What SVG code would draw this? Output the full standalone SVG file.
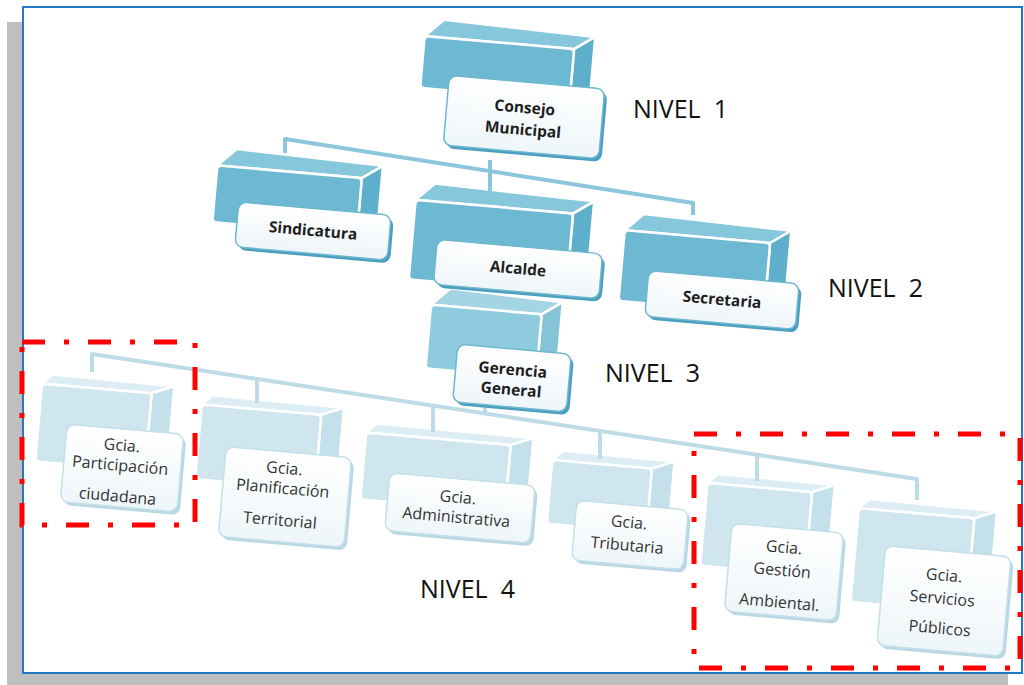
<svg xmlns="http://www.w3.org/2000/svg" width="1024" height="685" viewBox="0 0 1024 685">
<defs>
<linearGradient id="cardg" x1="0" y1="0" x2="0" y2="1">
<stop offset="0" stop-color="#ffffff"/>
<stop offset="1" stop-color="#eef6f9"/>
</linearGradient>
<style>
.f1{fill:#6db8d2;stroke:#fff;stroke-width:2.5;stroke-linejoin:round}
.t1{fill:#86c7dc;stroke:#fff;stroke-width:2.5;stroke-linejoin:round}
.s1{fill:#5eafcb;stroke:#fff;stroke-width:2.5;stroke-linejoin:round}
.f3{fill:#8ecbde;stroke:#fff;stroke-width:2.5;stroke-linejoin:round}
.t3{fill:#a3d5e4;stroke:#fff;stroke-width:2.5;stroke-linejoin:round}
.s3{fill:#84c3d8;stroke:#fff;stroke-width:2.5;stroke-linejoin:round}
.f4{fill:#cfe6ee;stroke:#fff;stroke-width:2.5;stroke-linejoin:round}
.t4{fill:#dcedf3;stroke:#fff;stroke-width:2.5;stroke-linejoin:round}
.s4{fill:#c4e0ea;stroke:#fff;stroke-width:2.5;stroke-linejoin:round}
.sh1{fill:#4a9fc0}
.sh4{fill:#b9d8e4}
.c1{fill:url(#cardg);stroke:#6fb6cf;stroke-width:1.5}
.c4{fill:url(#cardg);stroke:#c3dfe9;stroke-width:1.5}
.lb{font-family:"Open Sans","DejaVu Sans",sans-serif;font-weight:700;font-size:15.5px;fill:#1e1e1e;text-anchor:middle}
.lr{font-family:"Open Sans","DejaVu Sans",sans-serif;font-weight:400;font-size:16px;fill:#333;text-anchor:middle}
.nv{font-family:"Open Sans","DejaVu Sans",sans-serif;font-size:25px;fill:#111;white-space:pre}
.cn1{fill:none;stroke:#8cc6da;stroke-width:4;stroke-linejoin:round}
.cn4{fill:none;stroke:#bddce7;stroke-width:4;stroke-linejoin:round}
.red{fill:none;stroke:#ff0000;stroke-width:5;stroke-dasharray:23 19 5 19}
</style>
</defs>

<rect x="7" y="22" width="1001" height="670" fill="#bfbfbf"/>
<rect x="23" y="7" width="999" height="666" fill="#ffffff" stroke="#1f7bc8" stroke-width="2"/>

<g id="consejo" transform="translate(524,117) rotate(5)">
<polygon class="t1" points="-106,-72 44,-72 64,-86 -88,-90"/>
<polygon class="s1" points="44,-72 64,-86 64,-34 44,-20"/>
<rect class="f1" x="-106" y="-72" width="150" height="52" rx="4"/>
<rect class="sh1" x="-75" y="-32" width="156" height="70" rx="8"/>
<rect class="c1" x="-78" y="-35" width="156" height="70" rx="8"/>
<text class="lb" x="0" y="-4">Consejo</text>
<text class="lb" x="0" y="18">Municipal</text>
</g>

<g id="sindicatura" transform="translate(313,231) rotate(5)">
<polygon class="t1" points="-101,-57 44,-57 64,-71 -83,-75"/>
<polygon class="s1" points="44,-57 64,-71 64,-14 44,0"/>
<rect class="f1" x="-101" y="-57" width="145" height="57" rx="4"/>
<rect class="sh1" x="-73.5" y="-19.5" width="153" height="45" rx="8"/>
<rect class="c1" x="-76.5" y="-22.5" width="153" height="45" rx="8"/>
<text class="lb" x="0" y="5">Sindicatura</text>
</g>

<g id="gerencia" transform="translate(512,378) rotate(5)">
<polygon class="t3" points="-87,-66 24,-66 44,-80 -69,-84"/>
<polygon class="s3" points="24,-66 44,-80 44,-16 24,-2"/>
<rect class="f3" x="-87" y="-66" width="111" height="64" rx="4"/>
<rect class="sh1" x="-54" y="-26" width="114" height="58" rx="8"/>
<rect class="c1" x="-57" y="-29" width="114" height="58" rx="8"/>
<text class="lb" x="0" y="-3">Gerencia</text>
<text class="lb" x="0" y="17">General</text>
</g>

<g id="alcalde" transform="translate(518,269) rotate(5)">
<polygon class="t1" points="-108,-60 50,-60 70,-74 -90,-78"/>
<polygon class="s1" points="50,-60 70,-74 70,6 50,20"/>
<rect class="f1" x="-108" y="-60" width="158" height="80" rx="4"/>
<rect class="sh1" x="-80" y="-19.5" width="166" height="45" rx="8"/>
<rect class="c1" x="-83" y="-22.5" width="166" height="45" rx="8"/>
<text class="lb" x="0" y="5">Alcalde</text>
</g>

<g id="secretaria" transform="translate(722,300) rotate(5)">
<polygon class="t1" points="-103,-61 43,-61 63,-75 -85,-79"/>
<polygon class="s1" points="43,-61 63,-75 63,-4 43,10"/>
<rect class="f1" x="-103" y="-61" width="146" height="71" rx="4"/>
<rect class="sh1" x="-72.5" y="-20" width="151" height="46" rx="8"/>
<rect class="c1" x="-75.5" y="-23" width="151" height="46" rx="8"/>
<text class="lb" x="0" y="5">Secretaria</text>
</g>

<g id="participacion" transform="translate(122,468) rotate(5)">
<polygon class="t4" points="-87,-77 23,-77 45,-86 -77,-87"/>
<polygon class="s4" points="23,-77 45,-86 45,-8 23,1"/>
<rect class="f4" x="-87" y="-77" width="110" height="78" rx="4"/>
<rect class="sh4" x="-55.5" y="-36" width="117" height="78" rx="8"/>
<rect class="c4" x="-58.5" y="-39" width="117" height="78" rx="8"/>
<text class="lr" x="-2" y="-17">Gcia.</text>
<text class="lr" x="-2" y="3">Participación</text>
<text class="lr" x="-2" y="34">ciudadana</text>
</g>

<g id="planificacion" transform="translate(285,497) rotate(5)">
<polygon class="t4" points="-91,-85 29,-85 51,-94 -81,-95"/>
<polygon class="s4" points="29,-85 51,-94 51,-19 29,-10"/>
<rect class="f4" x="-91" y="-85" width="120" height="75" rx="4"/>
<rect class="sh4" x="-60" y="-42" width="126" height="90" rx="8"/>
<rect class="c4" x="-63" y="-45" width="126" height="90" rx="8"/>
<text class="lr" x="-3" y="-23">Gcia.</text>
<text class="lr" x="-3" y="-3">Planificación</text>
<text class="lr" x="-3" y="29">Territorial</text>
</g>

<g id="administrativa" transform="translate(460,508) rotate(5)">
<polygon class="t4" points="-100,-67 45,-67 67,-76 -90,-77"/>
<polygon class="s4" points="45,-67 67,-76 67,-9 45,0"/>
<rect class="f4" x="-100" y="-67" width="145" height="67" rx="4"/>
<rect class="sh4" x="-70" y="-26" width="146" height="58" rx="8"/>
<rect class="c4" x="-73" y="-29" width="146" height="58" rx="8"/>
<text class="lr" x="-3" y="-5">Gcia.</text>
<text class="lr" x="-3" y="15">Administrativa</text>
</g>

<g id="tributaria" transform="translate(630,535) rotate(5)">
<polygon class="t4" points="-84,-68 16,-68 38,-77 -74,-78"/>
<polygon class="s4" points="16,-68 38,-77 38,-13 16,-4"/>
<rect class="f4" x="-84" y="-68" width="100" height="64" rx="4"/>
<rect class="sh4" x="-53" y="-27" width="112" height="60" rx="8"/>
<rect class="c4" x="-56" y="-30" width="112" height="60" rx="8"/>
<text class="lr" x="-2" y="-7">Gcia.</text>
<text class="lr" x="-2" y="16">Tributaria</text>
</g>

<g id="gestion" transform="translate(784,572) rotate(5)">
<polygon class="t4" points="-84,-82 21,-82 43,-91 -74,-92"/>
<polygon class="s4" points="21,-82 43,-91 43,-8 21,1"/>
<rect class="f4" x="-84" y="-82" width="105" height="83" rx="4"/>
<rect class="sh4" x="-53" y="-41" width="112" height="88" rx="8"/>
<rect class="c4" x="-56" y="-44" width="112" height="88" rx="8"/>
<text class="lr" x="-2" y="-19">Gcia.</text>
<text class="lr" x="-2" y="4">Gestión</text>
<text class="lr" x="-2" y="36">Ambiental.</text>
</g>

<g id="servicios" transform="translate(944,601) rotate(5)">
<polygon class="t4" points="-93,-85 23,-85 45,-94 -83,-95"/>
<polygon class="s4" points="23,-85 45,-94 45,0 23,9"/>
<rect class="f4" x="-93" y="-85" width="116" height="94" rx="4"/>
<rect class="sh4" x="-60" y="-47" width="126" height="100" rx="8"/>
<rect class="c4" x="-63" y="-50" width="126" height="100" rx="8"/>
<text class="lr" x="-2" y="-20">Gcia.</text>
<text class="lr" x="-2" y="3">Servicios</text>
<text class="lr" x="-2" y="33">Públicos</text>
</g>

<g id="connectors">
<polyline class="cn1" points="285,153 285,139 693,203 693,215"/>
<line class="cn1" x1="490" y1="160" x2="490" y2="192"/>
<polyline class="cn4" points="92,372 92,354 917,479 917,500"/>
<line class="cn4" x1="257" y1="379" x2="257" y2="403"/>
<line class="cn4" x1="433" y1="406" x2="433" y2="432"/>
<line class="cn4" x1="600" y1="431" x2="600" y2="459"/>
<line class="cn4" x1="757" y1="455" x2="757" y2="481"/>
<line class="cn4" x1="485" y1="408" x2="485" y2="414"/>
</g>

<g id="levels">
<text class="nv" x="633" y="118">NIVEL  1</text>
<text class="nv" x="828" y="297">NIVEL  2</text>
<text class="nv" x="605" y="382">NIVEL  3</text>
<text class="nv" x="420" y="598">NIVEL  4</text>
</g>

<g id="highlights">
<rect class="red" x="22" y="342" width="173" height="183"/>
<rect class="red" x="694" y="434" width="326" height="234"/>
</g>
</svg>
